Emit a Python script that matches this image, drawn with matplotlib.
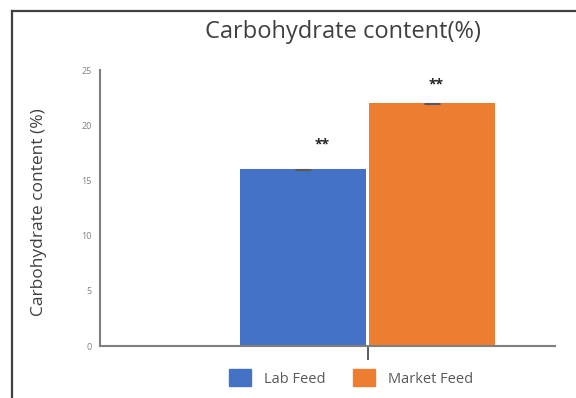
import matplotlib
matplotlib.use("Agg")
import matplotlib.pyplot as plt
from matplotlib.lines import Line2D
from matplotlib.patches import Patch

plt.rcParams['font.family'] = ['Open Sans', 'DejaVu Sans']

categories = ["Lab Feed", "Market Feed"]
values = [16.0, 22.0]
errors = [0.05, 0.05]
significance = ["**", "**"]
colors = ["#4472C4", "#ED7D31"]
yticks = [0, 5, 10, 15, 20, 25]

# horizontal / vertical placement of the significance marks relative to each bar
star_dx = [0.15, 0.03]
star_dy = [2.25, 1.65]

W, H = 576, 398
fig = plt.figure(figsize=(W / 100, H / 100), dpi=100)
ax = fig.add_axes([100 / W, 1 - 346 / H, 455 / W, 276 / H])

x = list(range(len(categories)))
ax.bar(x, values, width=0.975, color=colors, yerr=errors,
       error_kw=dict(ecolor="#595959", elinewidth=0.8, capsize=6, capthick=0.8),
       zorder=2)
for xi, v, s, dx, dy in zip(x, values, significance, star_dx, star_dy):
    ax.text(xi + dx, v + dy, s, ha="center", va="center", fontsize=10,
            fontweight="bold", color="#222222")

ax.set_xlim(-1.574, 1.953)
ax.set_ylim(0, 25)
ax.set_yticks(yticks)
ax.set_yticklabels([str(t) for t in yticks])
ax.set_xticks([0.5])
ax.set_xticklabels([""])
ax.tick_params(axis="x", length=10, width=1.2, color="#404040", direction="out")
ax.tick_params(axis="y", length=0, labelsize=6.5, labelcolor="#808080", pad=6)

for side in ("top", "right"):
    ax.spines[side].set_visible(False)
for side in ("left", "bottom"):
    ax.spines[side].set_color("#7f7f7f")
    ax.spines[side].set_linewidth(1.5)

ax.set_ylabel("Carbohydrate content (%)", fontsize=12.5, color="#404040")
ax.yaxis.set_label_coords(-(100 - 39) / 455, (346 - 212) / 276)
ax.yaxis.label.set_va("center")

fig.text(343 / W, 1 - 32 / H, "Carbohydrate content(%)", ha="center", va="center",
         fontsize=17, color="#404040")

handles = [Patch(facecolor=c, edgecolor=c) for c in colors]
fig.legend(handles, categories, loc="center", bbox_to_anchor=(351 / W, 1 - 378 / H),
           ncol=2, frameon=False, fontsize=10.5, labelcolor="#595959",
           handlelength=1.5, handleheight=1.35, columnspacing=1.85, handletextpad=0.9)

# frame around the figure
fig.add_artist(Line2D([12 / W, 12 / W], [0, 1 - 11 / H], transform=fig.transFigure,
                      color="#404040", linewidth=1.6))
fig.add_artist(Line2D([12 / W, 1], [1 - 11 / H, 1 - 11 / H], transform=fig.transFigure,
                      color="#404040", linewidth=1.6))

fig.savefig("out.png", dpi=100)
